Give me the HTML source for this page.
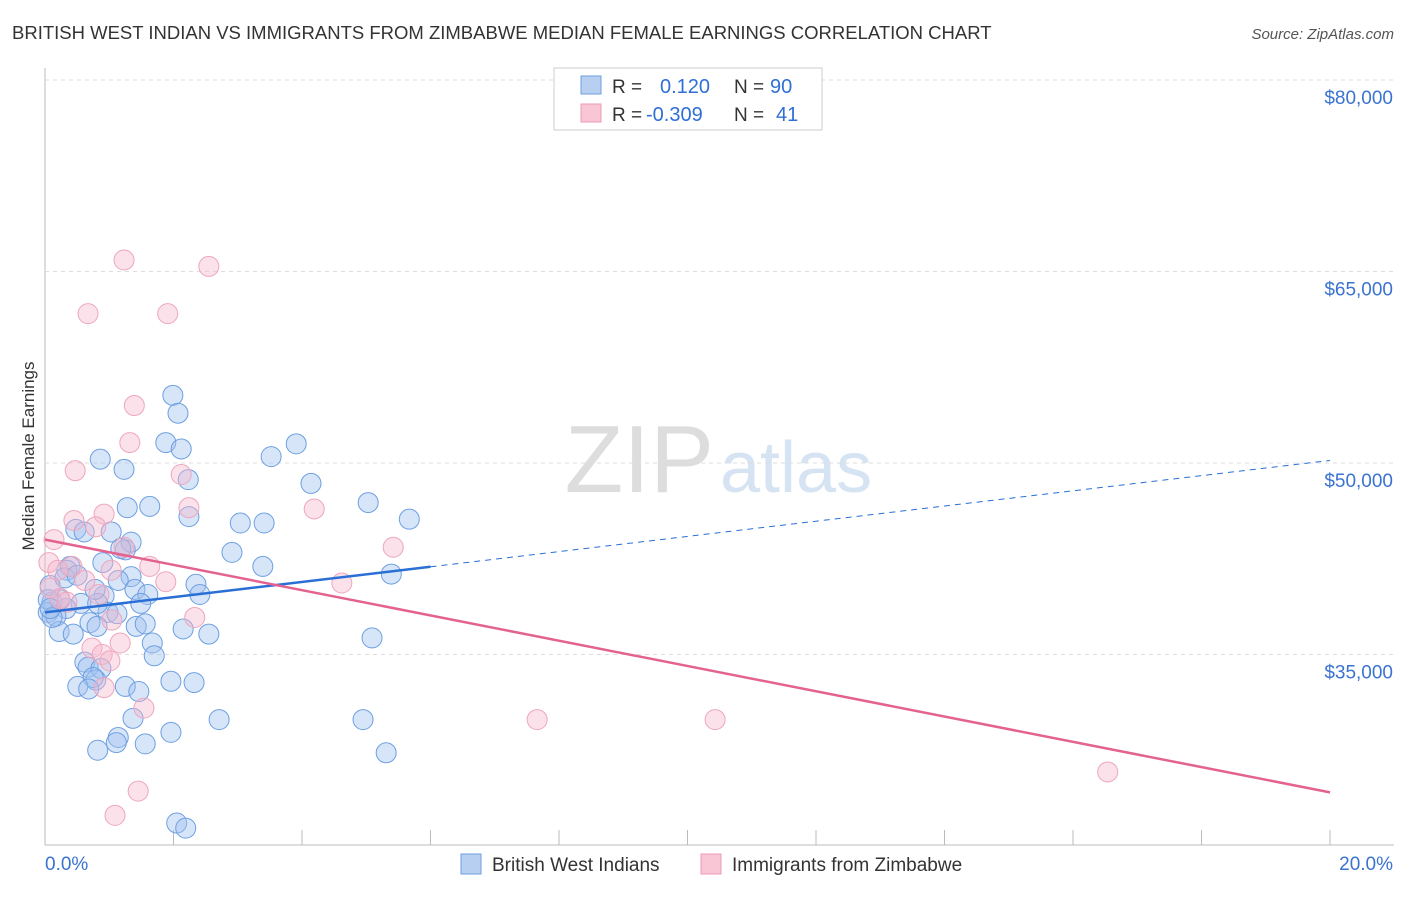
<!DOCTYPE html>
<html><head><meta charset="utf-8"><style>
body{margin:0;background:#fff;font-family:"Liberation Sans",sans-serif}
svg text{font-family:"Liberation Sans",sans-serif}
</style></head><body>
<svg width="1406" height="892" id="c">
<text x="12" y="39" font-size="18.5" fill="#333">BRITISH WEST INDIAN VS IMMIGRANTS FROM ZIMBABWE MEDIAN FEMALE EARNINGS CORRELATION CHART</text>
<text x="1394" y="39" font-size="15" fill="#555" font-style="italic" text-anchor="end">Source: ZipAtlas.com</text>
<text x="34" y="456" font-size="17" fill="#333" transform="rotate(-90 34 456)" text-anchor="middle">Median Female Earnings</text>
<text x="714" y="492" font-size="96" fill="#ddd" text-anchor="end" font-family="Liberation Serif">ZIP</text>
<text x="720" y="492" font-size="72" fill="#d6e3f3">atlas</text>
<g id="grid"></g><g id="pts"></g><g id="lines"></g>
<g>
<rect x="554" y="68" width="268" height="62" fill="#fff" stroke="#ccc"/>
<rect x="581" y="76" width="20" height="18" fill="#b7d0f2" stroke="#6d9ee0"/>
<rect x="581" y="104" width="20" height="18" fill="#f8c6d5" stroke="#ec9ab5"/>
<text x="612" y="93" font-size="19" fill="#333">R =</text><text x="660" y="93" font-size="20" fill="#2f6fd6">0.120</text>
<text x="734" y="93" font-size="19" fill="#333">N =</text><text x="770" y="93" font-size="20" fill="#2f6fd6">90</text>
<text x="612" y="121" font-size="19" fill="#333">R =</text><text x="646" y="121" font-size="20" fill="#2f6fd6">-0.309</text>
<text x="734" y="121" font-size="19" fill="#333">N =</text><text x="776" y="121" font-size="20" fill="#2f6fd6">41</text>
</g>
<g>
<rect x="461" y="854" width="20" height="20" fill="#b7d0f2" stroke="#6d9ee0"/>
<text x="492" y="871" font-size="19" fill="#333">British West Indians</text>
<rect x="701" y="854" width="20" height="20" fill="#f8c6d5" stroke="#ec9ab5"/>
<text x="732" y="871" font-size="19" fill="#333">Immigrants from Zimbabwe</text>
</g>
</svg>
<script>
const yTicks=[35000,50000,65000,80000];
const yTickLabels=["$35,000","$50,000","$65,000","$80,000"];
const xTickLabels=["0.0%","20.0%"];
const blueX=[1.99,2.07,1.88,2.12,3.91,3.52,0.86,1.23,2.23,4.14,5.03,1.63,1.28,2.24,5.67,3.04,3.41,0.48,1.03,0.61,2.91,1.25,1.34,1.18,0.90,3.39,0.39,0.34,5.39,1.34,1.14,2.35,2.41,1.40,1.60,0.92,0.56,0.33,0.11,0.05,0.17,0.98,1.12,1.49,0.70,0.81,1.42,1.56,2.15,2.55,0.22,0.44,1.67,5.09,1.70,0.62,0.67,0.87,0.79,0.75,0.51,0.68,1.25,1.46,1.96,2.32,1.37,2.71,4.95,1.96,1.14,1.11,1.56,0.82,5.31,2.05,2.19,0.08,0.05,0.11,0.23,0.31,0.82,0.50,0.78,0.08];
const blueY=[55.3,53.9,51.6,51.1,51.5,50.5,50.3,49.5,48.7,48.4,46.9,46.6,46.5,45.8,45.6,45.3,45.3,44.8,44.6,44.6,43.0,43.2,43.8,43.3,42.2,41.9,41.9,41.6,41.3,41.1,40.8,40.5,39.7,40.1,39.7,39.6,39.0,38.6,39.1,38.3,38.0,38.3,38.2,39.0,37.5,37.2,37.2,37.4,37.0,36.6,36.8,36.6,35.9,36.3,34.9,34.4,34.0,33.9,33.0,33.2,32.5,32.3,32.5,32.1,32.9,32.8,30.0,29.9,29.9,28.9,28.5,28.1,28.0,27.5,27.3,21.8,21.4,40.4,39.3,37.9,39.3,41.0,39.0,41.2,40.1,38.6];
const pinkX=[1.23,2.55,0.67,1.91,1.39,1.32,0.47,2.12,2.24,4.19,0.45,0.92,0.79,0.14,5.42,1.23,0.06,0.42,1.63,1.03,1.88,4.62,0.62,0.84,0.23,2.33,1.04,1.17,0.73,0.89,1.01,0.92,1.54,7.66,10.43,16.54,1.45,1.09,0.08,0.34,0.20];
const pinkY=[65.9,65.4,61.7,61.7,54.5,51.6,49.4,49.1,46.5,46.4,45.5,46.0,45.0,44.0,43.4,43.4,42.2,41.9,41.9,41.6,40.7,40.6,40.8,39.7,39.4,37.9,37.7,35.9,35.5,35.0,34.5,32.4,30.8,29.9,29.9,25.8,24.3,22.4,40.2,39.1,41.6];
const blueTrend=[38300,50200];
const pinkTrend=[44000,24200];
const blueSolidEnd=6;
const NS="http://www.w3.org/2000/svg";
const X=p=>45+p*64.25;
const Y=v=>463-(v-50000)*191.5/15000;
function mk(t,a,parent){const e=document.createElementNS(NS,t);for(const k in a)e.setAttribute(k,a[k]);parent.appendChild(e);return e;}
const grid=document.getElementById('grid');
mk('line',{x1:45,y1:68,x2:45,y2:845,stroke:'#bbb'},grid);
mk('line',{x1:45,y1:845,x2:1394,y2:845,stroke:'#bbb'},grid);
yTicks.forEach((v,i)=>{
 const g=mk('line',{x1:45,y1:Y(v),x2:1394,y2:Y(v),stroke:'#ddd','stroke-dasharray':'4,4'},grid);
 
 
 const t=mk('text',{x:1393,y:Y(v)+24,'font-size':19,fill:'#3b73d0','text-anchor':'end'},grid);
 t.textContent=yTickLabels[i];
 
 
});
for(let i=1;i<=10;i++){const l=mk('line',{x1:X(i*2),y1:830,x2:X(i*2),y2:845,stroke:'#bbb'},grid);
 
 }
[[0,45,'start'],[20,1393,'end']].forEach((a,i)=>{const t=mk('text',{x:a[1],y:870,'font-size':19,fill:'#3b73d0','text-anchor':a[2]},grid);t.textContent=xTickLabels[i];
 
 });
const pts=document.getElementById('pts');
blueX.forEach((x,i)=>{const c=mk('circle',{cx:X(x),cy:Y(blueY[i]*1000),r:10,fill:'rgba(160,192,238,0.42)',stroke:'#6d9fe2','stroke-width':1},pts);
 
 });
pinkX.forEach((x,i)=>{const c=mk('circle',{cx:X(x),cy:Y(pinkY[i]*1000),r:10,fill:'rgba(246,184,204,0.42)',stroke:'#eea6bd','stroke-width':1},pts);
 
 });
const lines=document.getElementById('lines');
const bAt=p=>blueTrend[0]+(blueTrend[1]-blueTrend[0])*p/20;
let l1=mk('line',{x1:X(0),y1:Y(bAt(0)),x2:X(blueSolidEnd),y2:Y(bAt(blueSolidEnd)),stroke:'#2a6fd6','stroke-width':2.5},lines);


let l2=mk('line',{x1:X(blueSolidEnd),y1:Y(bAt(blueSolidEnd)),x2:X(20),y2:Y(bAt(20)),stroke:'#2a6fd6','stroke-width':1,'stroke-dasharray':'6,5'},lines);


let l3=mk('line',{x1:X(0),y1:Y(pinkTrend[0]),x2:X(20),y2:Y(pinkTrend[1]),stroke:'#e4628f','stroke-width':2.5},lines);


</script>
</body></html>
